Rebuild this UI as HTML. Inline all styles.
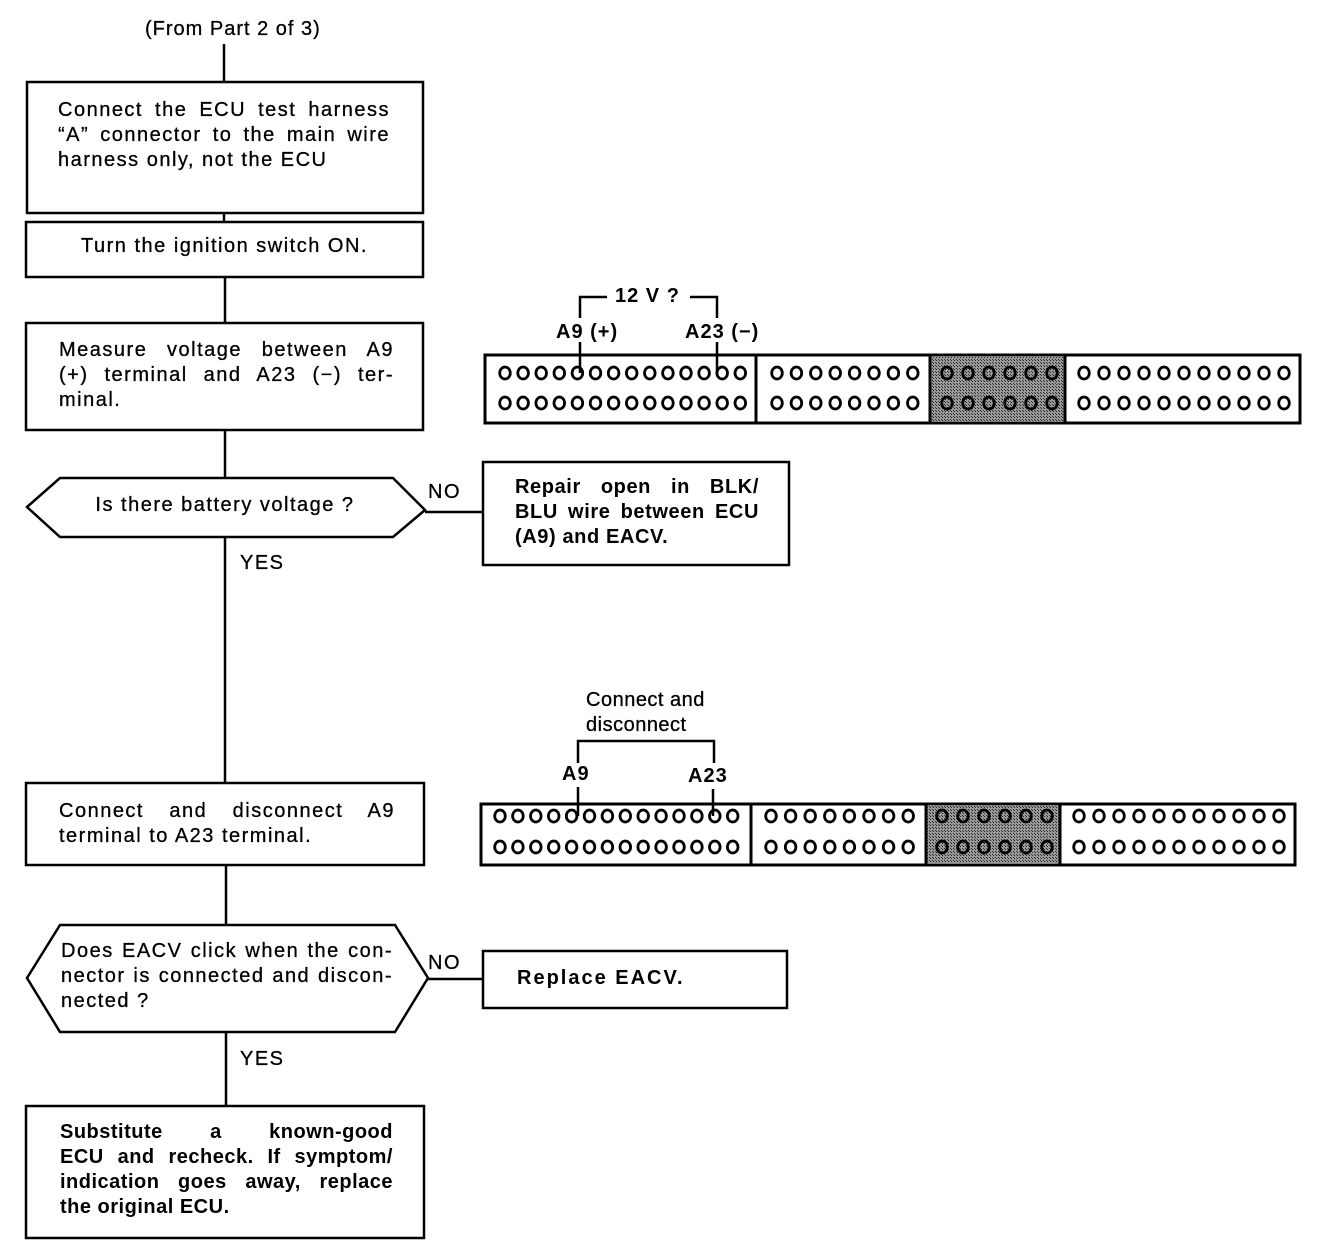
<!DOCTYPE html>
<html><head><meta charset="utf-8"><style>
body{margin:0;background:#fff;}
#c{position:relative;width:1344px;height:1252px;overflow:hidden;font-family:"Liberation Sans",Arial,sans-serif;color:#000;}
svg{position:absolute;left:0;top:0;}
.t{position:absolute;font-size:20px;line-height:25px;letter-spacing:1.5px;-webkit-text-stroke:0.3px #000;white-space:nowrap;}
.j{display:block;text-align:justify;text-align-last:justify;}
.l{display:block;text-align:left;}
.b{font-weight:bold;-webkit-text-stroke:0;letter-spacing:2px;}
</style></head><body><div id="c">
<svg width="1344" height="1252" viewBox="0 0 1344 1252">
<defs>
<pattern id="sh" width="3" height="3" patternUnits="userSpaceOnUse"><rect width="3" height="3" fill="#999"/><rect width="1" height="1" fill="#222"/><rect x="2" y="2" width="1" height="1" fill="#333"/></pattern>
</defs>
<g fill="none" stroke="#000" stroke-width="2.5">
<line x1="224" y1="44" x2="224" y2="82"/>
<rect x="27" y="82" width="396" height="131"/>
<line x1="224" y1="213" x2="224" y2="222"/>
<rect x="26" y="222" width="397" height="55"/>
<line x1="225" y1="277" x2="225" y2="323"/>
<rect x="26" y="323" width="397" height="107"/>
<line x1="225" y1="430" x2="225" y2="478"/>
<polygon points="27,507 60,478 393,478 425,510 393,537 60,537"/>
<line x1="425" y1="512" x2="484" y2="512"/>
<rect x="483" y="462" width="306" height="103"/>
<line x1="225" y1="537" x2="225" y2="783"/>
<rect x="26" y="783" width="398" height="82"/>
<line x1="226" y1="865" x2="226" y2="925"/>
<polygon points="27,978 60,925 395,925 428,978 395,1032 60,1032"/>
<line x1="428" y1="979" x2="483" y2="979"/>
<rect x="483" y="951" width="304" height="57"/>
<line x1="226" y1="1032" x2="226" y2="1106"/>
<rect x="26" y="1106" width="398" height="132"/>
</g>
<g stroke="#000" stroke-width="3">
<rect x="485" y="355" width="815" height="68" fill="#fff"/>
<rect x="930" y="357" width="135" height="64" fill="url(#sh)" stroke="none"/>
<line x1="756" y1="355" x2="756" y2="423"/>
<line x1="930" y1="355" x2="930" y2="423"/>
<line x1="1065" y1="355" x2="1065" y2="423"/>
</g>
<g fill="none" stroke="#000" stroke-width="2.8" id="c1"></g>
<g fill="none" stroke="#000" stroke-width="2.5">
<polyline points="580,318 580,297 607,297"/>
<polyline points="690,297 717,297 717,318"/>
<line x1="580" y1="342" x2="580" y2="373"/>
<line x1="717" y1="342" x2="717" y2="373"/>
</g>
<g stroke="#000" stroke-width="3">
<rect x="481" y="804" width="814" height="61" fill="#fff"/>
<rect x="926" y="806" width="134" height="57" fill="url(#sh)" stroke="none"/>
<line x1="751" y1="804" x2="751" y2="865"/>
<line x1="926" y1="804" x2="926" y2="865"/>
<line x1="1060" y1="804" x2="1060" y2="865"/>
</g>
<g fill="none" stroke="#000" stroke-width="2.8" id="c2"></g>
<g fill="none" stroke="#000" stroke-width="2.5">
<polyline points="578,763 578,741 714,741 714,763"/>
<line x1="578" y1="787" x2="578" y2="816"/>
<line x1="713" y1="789" x2="713" y2="816"/>
</g>
</svg>
<script>
function row(x0,dx,n,y,f){var s='';for(var i=0;i<n;i++)s+='<ellipse cx="'+(x0+i*dx)+'" cy="'+y+'" rx="5.3" ry="6" fill="'+f+'"/>';return s;}
var c1=document.getElementById('c1'),c2=document.getElementById('c2'),s='';
[373,403].forEach(function(y){s+=row(505,18.1,14,y,'#fff')+row(777,19.4,8,y,'#fff')+row(947,21,6,y,'none')+row(1084,20,11,y,'#fff');});
c1.innerHTML=s;s='';
[816,847].forEach(function(y){s+=row(500,17.9,14,y,'#fff')+row(771,19.6,8,y,'#fff')+row(942,21,6,y,'none')+row(1079,20,11,y,'#fff');});
c2.innerHTML=s;
</script>
<div class="t" style="left:145px;top:17px;letter-spacing:1px;">(From Part 2 of 3)</div>
<div class="t" style="left:58px;top:98px;width:332px;"><span class="j">Connect the ECU test harness</span><span class="j">“A” connector to the main wire</span><span class="l">harness only, not the ECU</span></div>
<div class="t" style="left:26px;top:234px;width:397px;text-align:center;">Turn the ignition switch ON.</div>
<div class="t" style="left:59px;top:338px;width:335px;"><span class="j">Measure voltage between A9</span><span class="j">(+) terminal and A23 (−) ter-</span><span class="l">minal.</span></div>
<div class="t" style="left:60px;top:493px;width:330px;text-align:center;">Is there battery voltage ?</div>
<div class="t" style="left:428px;top:480px;">NO</div>
<div class="t b" style="left:515px;top:475px;width:244px;letter-spacing:0.6px;"><span class="j">Repair open in BLK/</span><span class="j">BLU wire between ECU</span><span class="l">(A9) and EACV.</span></div>
<div class="t" style="left:240px;top:551px;">YES</div>
<div class="t b" style="left:615px;top:284px;letter-spacing:1px;">12 V ?</div>
<div class="t b" style="left:556px;top:320px;letter-spacing:1px;">A9 (+)</div>
<div class="t b" style="left:685px;top:320px;letter-spacing:1px;">A23 (−)</div>
<div class="t" style="left:586px;top:688px;letter-spacing:0.5px;">Connect and</div>
<div class="t" style="left:586px;top:713px;letter-spacing:0.5px;">disconnect</div>
<div class="t b" style="left:562px;top:762px;letter-spacing:1px;">A9</div>
<div class="t b" style="left:688px;top:764px;letter-spacing:1px;">A23</div>
<div class="t" style="left:59px;top:799px;width:336px;"><span class="j">Connect and disconnect A9</span><span class="l">terminal to A23 terminal.</span></div>
<div class="t" style="left:61px;top:939px;width:332px;"><span class="j">Does EACV click when the con-</span><span class="j">nector is connected and discon-</span><span class="l">nected ?</span></div>
<div class="t" style="left:428px;top:951px;">NO</div>
<div class="t b" style="left:517px;top:966px;">Replace EACV.</div>
<div class="t" style="left:240px;top:1047px;">YES</div>
<div class="t b" style="left:60px;top:1120px;width:333px;letter-spacing:0.5px;"><span class="j">Substitute a known-good</span><span class="j">ECU and recheck. If symptom/</span><span class="j">indication goes away, replace</span><span class="l">the original ECU.</span></div>
</div></body></html>
